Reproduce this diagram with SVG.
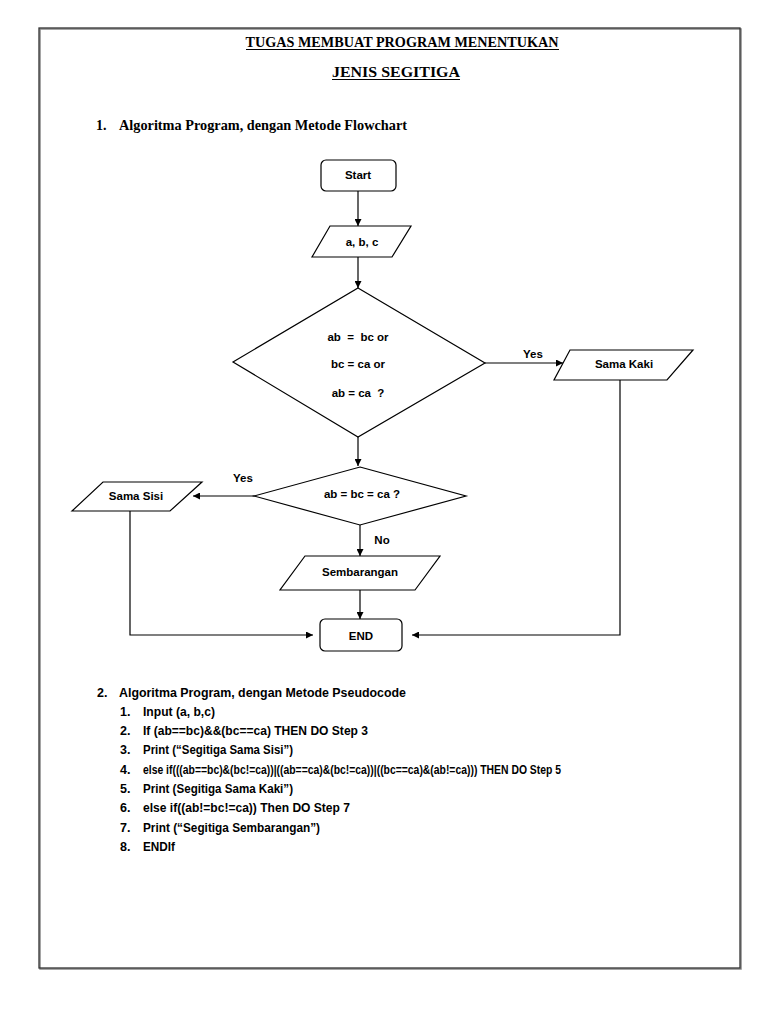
<svg xmlns="http://www.w3.org/2000/svg" width="768" height="1024" viewBox="0 0 768 1024">
<style>
.shape{fill:#fff;stroke:#000;stroke-width:1.2}
.con{fill:none;stroke:#000;stroke-width:1.2}
.fc{font-family:"Liberation Sans",Arial,sans-serif;font-weight:bold;font-size:11.5px;fill:#000;white-space:pre}
.ttl{font-family:"Liberation Serif","Times New Roman",serif;font-weight:bold;font-size:14px;fill:#000}
.pc{font-family:"Liberation Sans",Arial,sans-serif;font-weight:bold;font-size:12.5px;fill:#000}
</style>
<defs>
<marker id="arr" viewBox="0 0 10 10" refX="10" refY="5" markerWidth="7" markerHeight="7" markerUnits="userSpaceOnUse" orient="auto">
<path d="M0,0 L10,5 L0,10 z" fill="#000"/>
</marker>
</defs>
<rect x="0" y="0" width="768" height="1024" fill="#fff"/>
<rect x="40" y="29" width="701" height="940" fill="none" stroke="#888" stroke-width="1.5"/>
<rect x="39" y="28" width="701" height="940" fill="none" stroke="#333" stroke-width="1.3"/>

<g id="title">
<text class="ttl" x="402" y="47" text-anchor="middle" textLength="313" lengthAdjust="spacingAndGlyphs">TUGAS MEMBUAT PROGRAM MENENTUKAN</text>
<line x1="246" y1="49.5" x2="559" y2="49.5" stroke="#000" stroke-width="1"/>
<text class="ttl" x="396" y="77" text-anchor="middle" textLength="128" lengthAdjust="spacingAndGlyphs">JENIS SEGITIGA</text>
<line x1="332" y1="79.5" x2="460" y2="79.5" stroke="#000" stroke-width="1"/>
<text class="ttl" x="96" y="130">1.</text>
<text class="ttl" x="119" y="130" textLength="288" lengthAdjust="spacingAndGlyphs">Algoritma Program, dengan Metode Flowchart</text>
</g>

<g id="connectors">
<line class="con" x1="358" y1="191" x2="358" y2="226" marker-end="url(#arr)"/>
<line class="con" x1="358" y1="257" x2="358" y2="288" marker-end="url(#arr)"/>
<line class="con" x1="485" y1="363" x2="563" y2="363" marker-end="url(#arr)"/>
<text class="fc" x="533" y="358" text-anchor="middle">Yes</text>
<polyline class="con" points="620,380 620,635 412,635" marker-end="url(#arr)"/>
<line class="con" x1="358" y1="437" x2="358" y2="466" marker-end="url(#arr)"/>
<line class="con" x1="254" y1="496" x2="193" y2="496" marker-end="url(#arr)"/>
<text class="fc" x="243" y="482" text-anchor="middle">Yes</text>
<polyline class="con" points="130,511 130,635 313,635" marker-end="url(#arr)"/>
<line class="con" x1="360" y1="525" x2="360" y2="556" marker-end="url(#arr)"/>
<text class="fc" x="382" y="544" text-anchor="middle">No</text>
<line class="con" x1="360" y1="590" x2="360" y2="619" marker-end="url(#arr)"/>
</g>

<g id="start">
<rect class="shape" x="321" y="160" width="75" height="31" rx="5"/>
<text class="fc" x="358" y="179" text-anchor="middle">Start</text>
</g>
<g id="input">
<polygon class="shape" points="330,226 411,226 392,257 312,257"/>
<text class="fc" x="362" y="246" text-anchor="middle">a, b, c</text>
</g>
<g id="decision1">
<polygon class="shape" points="358,288 485,363 358,437 233,362"/>
<text class="fc" x="358" y="341" text-anchor="middle" xml:space="preserve">ab  =  bc or</text>
<text class="fc" x="358" y="368" text-anchor="middle">bc = ca or</text>
<text class="fc" x="358" y="397" text-anchor="middle" xml:space="preserve">ab = ca  ?</text>
</g>
<g id="samakaki">
<polygon class="shape" points="570,350 693,350 667,380 554,380"/>
<text class="fc" x="624" y="368" text-anchor="middle">Sama Kaki</text>
</g>
<g id="decision2">
<polygon class="shape" points="360,467 466,496 360,525 254,496"/>
<text class="fc" x="362" y="498" text-anchor="middle">ab = bc = ca ?</text>
</g>
<g id="samasisi">
<polygon class="shape" points="103,482 202,482 170,511 72,511"/>
<text class="fc" x="136" y="500" text-anchor="middle">Sama Sisi</text>
</g>
<g id="sembarangan">
<polygon class="shape" points="305,556 440,556 415,590 280,590"/>
<text class="fc" x="360" y="576" text-anchor="middle">Sembarangan</text>
</g>
<g id="end">
<rect class="shape" x="320" y="619" width="82" height="32" rx="5"/>
<text class="fc" x="361" y="640" text-anchor="middle">END</text>
</g>

<g id="pseudocode">
<text class="pc" x="97" y="697">2.</text>
<text class="pc" x="119" y="697" textLength="287" lengthAdjust="spacingAndGlyphs">Algoritma Program, dengan Metode Pseudocode</text>
<text class="pc" x="120" y="716">1.</text>
<text class="pc" x="143" y="716" textLength="72" lengthAdjust="spacingAndGlyphs">Input (a, b,c)</text>
<text class="pc" x="120" y="735">2.</text>
<text class="pc" x="143" y="735" textLength="225" lengthAdjust="spacingAndGlyphs">If (ab==bc)&amp;&amp;(bc==ca) THEN DO Step 3</text>
<text class="pc" x="120" y="754">3.</text>
<text class="pc" x="143" y="754" textLength="150" lengthAdjust="spacingAndGlyphs">Print (“Segitiga Sama Sisi”)</text>
<text class="pc" x="120" y="774">4.</text>
<text class="pc" x="143" y="774" textLength="418" lengthAdjust="spacingAndGlyphs">else if(((ab==bc)&amp;(bc!=ca))|((ab==ca)&amp;(bc!=ca))|((bc==ca)&amp;(ab!=ca))) THEN DO Step 5</text>
<text class="pc" x="120" y="793">5.</text>
<text class="pc" x="143" y="793" textLength="150" lengthAdjust="spacingAndGlyphs">Print (Segitiga Sama Kaki”)</text>
<text class="pc" x="120" y="812">6.</text>
<text class="pc" x="143" y="812" textLength="207" lengthAdjust="spacingAndGlyphs">else if((ab!=bc!=ca)) Then DO Step 7</text>
<text class="pc" x="120" y="832">7.</text>
<text class="pc" x="143" y="832" textLength="177" lengthAdjust="spacingAndGlyphs">Print (“Segitiga Sembarangan”)</text>
<text class="pc" x="120" y="851">8.</text>
<text class="pc" x="143" y="851" textLength="32" lengthAdjust="spacingAndGlyphs">ENDIf</text>
</g>
</svg>
